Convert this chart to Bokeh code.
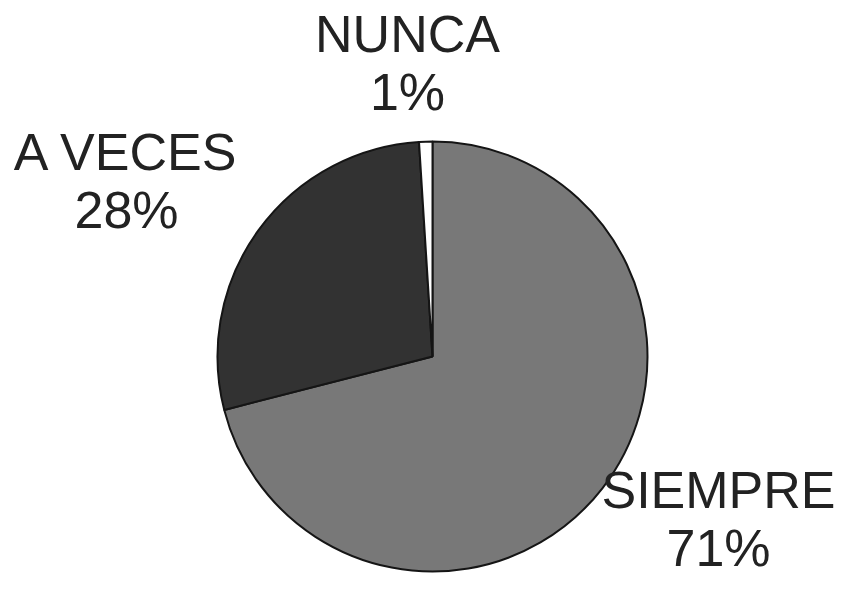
import math
from bokeh.plotting import figure
from bokeh.models import Range1d, ColumnDataSource
from bokeh.core.properties import value
from bokeh.embed import file_html
from bokeh.resources import INLINE

# data
categories = ["SIEMPRE", "A VECES", "NUNCA"]
percents = [71, 28, 1]
colors = ["#787878", "#323232", "#ffffff"]

W, H = 841, 578
p = figure(width=W, height=H, output_backend="svg", toolbar_location=None,
           x_range=Range1d(0, W), y_range=Range1d(0, H), min_border=0)
p.axis.visible = False
p.grid.visible = False
p.outline_line_color = None
p.background_fill_color = "white"
p.border_fill_color = "white"

total = sum(percents)
starts, ends = [], []
acc = 0.0
for v in percents:
    starts.append(math.pi / 2 - 2 * math.pi * acc / total)
    acc += v
    ends.append(math.pi / 2 - 2 * math.pi * acc / total)

cx, cy, r = 432, H - 356, 215
src = ColumnDataSource(dict(start=starts, end=ends, color=colors))
p.wedge(x=cx, y=cy, radius=r, radius_units="screen", start_angle="start", end_angle="end",
        direction="clock", fill_color="color", line_color="#151515", line_width=2, source=src)

# labels: (x center, top of first line in image px)
label_pos = {"SIEMPRE": (718, 471), "A VECES": (126, 133), "NUNCA": (407, 15)}
line_gap = 58
lx, ly, lt = [], [], []
for c, v in zip(categories, percents):
    x0, t0 = label_pos[c]
    lx += [x0, x0]
    ly += [H - t0, H - (t0 + line_gap)]
    lt += [c, f"{v}%"]
p.text(x=lx, y=ly, text=lt, text_font=value("Liberation Sans"), text_font_size="52px",
       text_color="#222222", text_align="center", text_baseline="alphabetic",
       y_offset=18)

open("out.html", "w").write(file_html(p, INLINE))
